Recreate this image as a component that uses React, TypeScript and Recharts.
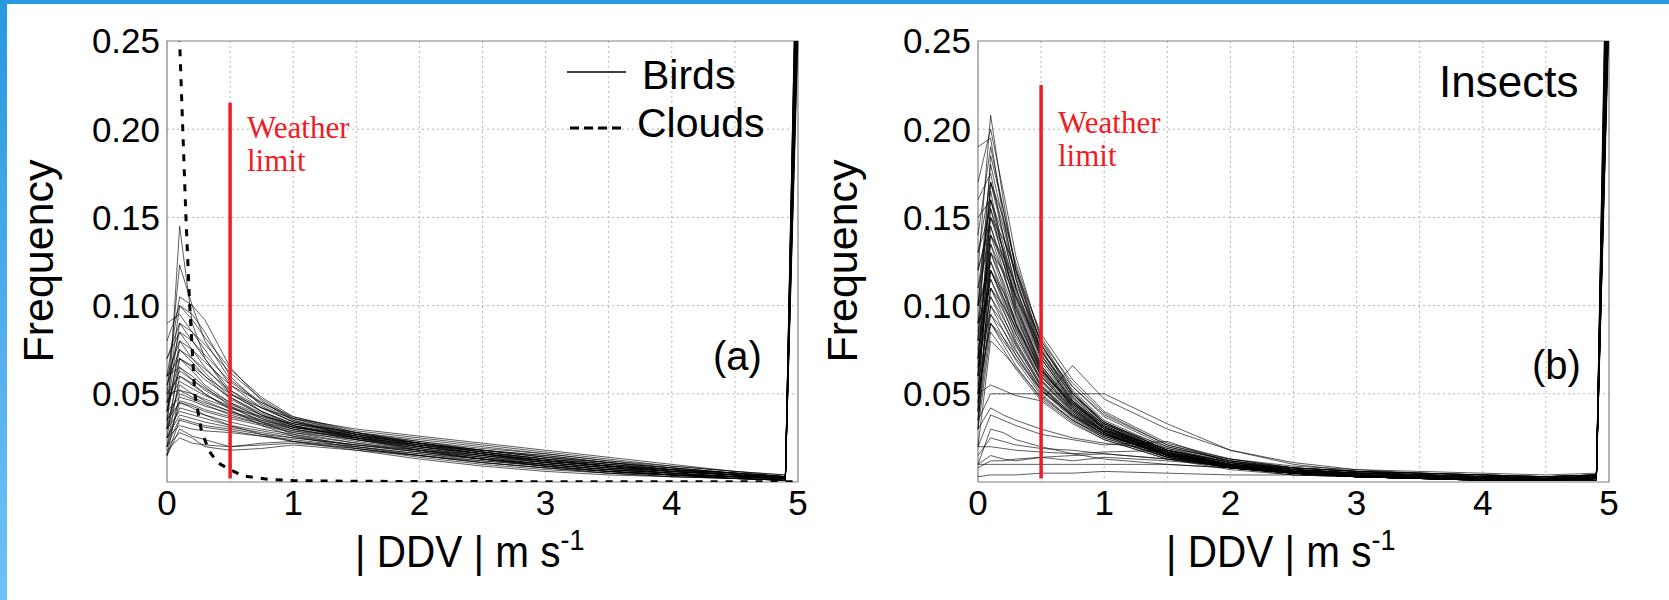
import React from 'react';
import {
    LineChart,
    Line,
    XAxis,
    YAxis,
    CartesianGrid,
    ReferenceLine,
    ReferenceArea,
} from 'recharts';

// |DDV| bins (m/s) shared by every bird / insect curve
const ddvBins = [0, 0.1, 0.2, 0.3, 0.5, 0.75, 1, 1.5, 2, 2.5, 3, 3.5, 4, 4.5, 4.9, 5];

// panel (a): bird profiles, one row per curve
const birdCurves: number[][] = [
    [0.03, 0.145, 0.09, 0.07, 0.05, 0.04, 0.033, 0.026, 0.02, 0.015, 0.011, 0.008, 0.006, 0.004, 0.003, 0.3],
    [0.05, 0.123, 0.1, 0.08, 0.058, 0.045, 0.036, 0.028, 0.022, 0.017, 0.012, 0.009, 0.006, 0.004, 0.003, 0.28],
    [0.06, 0.105, 0.1, 0.092, 0.065, 0.046, 0.035, 0.027, 0.021, 0.016, 0.012, 0.009, 0.006, 0.004, 0.002, 0.33],
    [0.045, 0.1, 0.095, 0.085, 0.06, 0.043, 0.034, 0.027, 0.022, 0.018, 0.014, 0.01, 0.007, 0.005, 0.003, 0.26],
    [0.09, 0.095, 0.085, 0.075, 0.055, 0.042, 0.034, 0.028, 0.023, 0.018, 0.014, 0.011, 0.008, 0.005, 0.003, 0.35],
    [0.04, 0.09, 0.08, 0.07, 0.052, 0.04, 0.032, 0.025, 0.02, 0.016, 0.012, 0.009, 0.007, 0.005, 0.002, 0.29],
    [0.07, 0.085, 0.075, 0.065, 0.05, 0.04, 0.033, 0.027, 0.022, 0.017, 0.013, 0.01, 0.007, 0.004, 0.002, 0.31],
    [0.035, 0.08, 0.07, 0.062, 0.048, 0.038, 0.031, 0.025, 0.02, 0.016, 0.012, 0.009, 0.006, 0.004, 0.002, 0.27],
    [0.055, 0.075, 0.068, 0.06, 0.047, 0.038, 0.032, 0.026, 0.022, 0.018, 0.015, 0.011, 0.008, 0.005, 0.003, 0.36],
    [0.025, 0.07, 0.063, 0.055, 0.045, 0.036, 0.03, 0.024, 0.019, 0.015, 0.011, 0.008, 0.006, 0.004, 0.002, 0.25],
    [0.06, 0.065, 0.058, 0.052, 0.044, 0.037, 0.031, 0.026, 0.021, 0.017, 0.013, 0.01, 0.007, 0.005, 0.003, 0.32],
    [0.02, 0.06, 0.055, 0.05, 0.042, 0.035, 0.03, 0.024, 0.019, 0.015, 0.011, 0.008, 0.005, 0.003, 0.002, 0.28],
    [0.045, 0.057, 0.053, 0.049, 0.043, 0.036, 0.031, 0.027, 0.023, 0.019, 0.016, 0.012, 0.009, 0.006, 0.004, 0.34],
    [0.03, 0.055, 0.05, 0.046, 0.04, 0.034, 0.029, 0.023, 0.018, 0.014, 0.01, 0.007, 0.005, 0.003, 0.002, 0.3],
    [0.05, 0.052, 0.048, 0.045, 0.04, 0.035, 0.031, 0.026, 0.022, 0.018, 0.014, 0.011, 0.008, 0.005, 0.003, 0.27],
    [0.015, 0.05, 0.047, 0.044, 0.038, 0.033, 0.028, 0.022, 0.017, 0.013, 0.009, 0.006, 0.004, 0.003, 0.002, 0.29],
    [0.04, 0.048, 0.046, 0.043, 0.039, 0.034, 0.03, 0.025, 0.021, 0.017, 0.013, 0.01, 0.007, 0.004, 0.002, 0.33],
    [0.035, 0.045, 0.043, 0.04, 0.036, 0.032, 0.028, 0.024, 0.02, 0.016, 0.012, 0.009, 0.006, 0.004, 0.002, 0.26],
    [0.025, 0.042, 0.04, 0.038, 0.034, 0.03, 0.027, 0.022, 0.018, 0.014, 0.011, 0.008, 0.005, 0.003, 0.002, 0.31],
    [0.03, 0.04, 0.038, 0.036, 0.032, 0.029, 0.026, 0.021, 0.017, 0.013, 0.01, 0.007, 0.005, 0.003, 0.001, 0.28],
    [0.02, 0.036, 0.034, 0.032, 0.03, 0.027, 0.025, 0.021, 0.017, 0.013, 0.01, 0.007, 0.005, 0.003, 0.002, 0.35],
    [0.025, 0.032, 0.03, 0.029, 0.028, 0.026, 0.024, 0.02, 0.016, 0.012, 0.009, 0.006, 0.004, 0.003, 0.002, 0.27],
    [0.015, 0.03, 0.026, 0.024, 0.02, 0.021, 0.022, 0.019, 0.015, 0.012, 0.009, 0.006, 0.004, 0.002, 0.001, 0.3],
    [0.02, 0.028, 0.025, 0.02, 0.018, 0.019, 0.021, 0.018, 0.015, 0.011, 0.008, 0.005, 0.004, 0.002, 0.001, 0.32],
    [0.018, 0.025, 0.022, 0.021, 0.02, 0.022, 0.023, 0.02, 0.016, 0.013, 0.01, 0.007, 0.005, 0.003, 0.002, 0.29],
    [0.04, 0.07, 0.066, 0.06, 0.05, 0.042, 0.036, 0.03, 0.026, 0.022, 0.018, 0.014, 0.01, 0.006, 0.003, 0.3],
    [0.06, 0.08, 0.075, 0.068, 0.055, 0.045, 0.037, 0.029, 0.025, 0.021, 0.017, 0.013, 0.009, 0.006, 0.004, 0.27],
    [0.03, 0.065, 0.06, 0.054, 0.043, 0.034, 0.027, 0.02, 0.015, 0.011, 0.008, 0.005, 0.003, 0.002, 0.001, 0.33],
    [0.05, 0.06, 0.056, 0.05, 0.041, 0.032, 0.026, 0.019, 0.014, 0.01, 0.007, 0.005, 0.003, 0.002, 0.001, 0.29],
    [0.02, 0.045, 0.042, 0.038, 0.032, 0.027, 0.023, 0.018, 0.013, 0.009, 0.006, 0.004, 0.003, 0.002, 0.001, 0.31],
    [0.07, 0.09, 0.085, 0.078, 0.062, 0.047, 0.036, 0.027, 0.021, 0.016, 0.011, 0.008, 0.005, 0.003, 0.002, 0.26],
    [0.08, 0.1, 0.092, 0.082, 0.064, 0.048, 0.037, 0.028, 0.022, 0.017, 0.013, 0.009, 0.006, 0.004, 0.002, 0.34],
    [0.035, 0.052, 0.05, 0.047, 0.042, 0.037, 0.033, 0.028, 0.024, 0.02, 0.016, 0.012, 0.008, 0.005, 0.003, 0.28],
    [0.045, 0.063, 0.058, 0.053, 0.045, 0.038, 0.032, 0.025, 0.019, 0.014, 0.01, 0.007, 0.004, 0.003, 0.002, 0.32],
    [0.025, 0.038, 0.036, 0.034, 0.031, 0.028, 0.025, 0.021, 0.018, 0.015, 0.012, 0.009, 0.006, 0.004, 0.002, 0.3],
    [0.055, 0.085, 0.08, 0.072, 0.057, 0.044, 0.035, 0.025, 0.018, 0.013, 0.009, 0.006, 0.004, 0.002, 0.001, 0.35],
    [0.015, 0.035, 0.033, 0.031, 0.029, 0.026, 0.023, 0.019, 0.015, 0.011, 0.008, 0.006, 0.004, 0.003, 0.002, 0.27],
    [0.04, 0.075, 0.07, 0.064, 0.052, 0.042, 0.034, 0.026, 0.02, 0.016, 0.012, 0.009, 0.007, 0.005, 0.003, 0.29],
    [0.06, 0.07, 0.065, 0.058, 0.048, 0.039, 0.032, 0.024, 0.018, 0.013, 0.009, 0.006, 0.004, 0.002, 0.001, 0.31],
    [0.03, 0.046, 0.044, 0.041, 0.037, 0.033, 0.029, 0.025, 0.021, 0.018, 0.015, 0.011, 0.007, 0.004, 0.002, 0.33],
];

// panel (a): cloud profile (dashed)
const cloudBins = [0, 0.1, 0.15, 0.18, 0.22, 0.27, 0.33, 0.4, 0.5, 0.6, 0.8, 1, 1.5, 2, 3, 4, 5];
const cloudValues = [0.9, 0.25, 0.15, 0.1, 0.05, 0.03, 0.018, 0.011, 0.007, 0.0035, 0.0015, 0.0008, 0.0004, 0.0003, 0.0002, 0.0002, 0.0002];

// panel (b): insect profiles
const insectCurves: number[][] = [
    [0.12, 0.208, 0.16, 0.12, 0.075, 0.048, 0.032, 0.016, 0.009, 0.005, 0.003, 0.002, 0.002, 0.001, 0.002, 0.32],
    [0.19, 0.195, 0.15, 0.115, 0.072, 0.046, 0.03, 0.015, 0.008, 0.005, 0.003, 0.002, 0.001, 0.001, 0.002, 0.4],
    [0.08, 0.185, 0.155, 0.12, 0.078, 0.05, 0.034, 0.018, 0.01, 0.006, 0.004, 0.003, 0.002, 0.002, 0.003, 0.3],
    [0.16, 0.175, 0.14, 0.11, 0.07, 0.045, 0.03, 0.016, 0.009, 0.005, 0.003, 0.002, 0.002, 0.001, 0.002, 0.35],
    [0.06, 0.17, 0.145, 0.115, 0.074, 0.048, 0.032, 0.017, 0.009, 0.005, 0.003, 0.002, 0.001, 0.001, 0.001, 0.28],
    [0.1, 0.165, 0.13, 0.1, 0.065, 0.042, 0.028, 0.014, 0.008, 0.004, 0.003, 0.002, 0.001, 0.001, 0.002, 0.33],
    [0.04, 0.16, 0.135, 0.108, 0.07, 0.046, 0.031, 0.016, 0.009, 0.005, 0.003, 0.002, 0.002, 0.001, 0.002, 0.38],
    [0.13, 0.155, 0.125, 0.098, 0.064, 0.042, 0.029, 0.015, 0.008, 0.005, 0.003, 0.002, 0.001, 0.001, 0.002, 0.3],
    [0.07, 0.15, 0.128, 0.104, 0.068, 0.045, 0.031, 0.017, 0.01, 0.006, 0.004, 0.003, 0.002, 0.002, 0.003, 0.27],
    [0.05, 0.145, 0.12, 0.095, 0.062, 0.041, 0.028, 0.015, 0.008, 0.005, 0.003, 0.002, 0.001, 0.001, 0.001, 0.36],
    [0.11, 0.14, 0.118, 0.096, 0.064, 0.043, 0.03, 0.016, 0.009, 0.006, 0.004, 0.003, 0.002, 0.001, 0.002, 0.31],
    [0.09, 0.135, 0.112, 0.09, 0.06, 0.04, 0.028, 0.015, 0.008, 0.005, 0.003, 0.002, 0.002, 0.001, 0.002, 0.29],
    [0.03, 0.13, 0.11, 0.09, 0.061, 0.042, 0.029, 0.016, 0.009, 0.005, 0.003, 0.002, 0.001, 0.001, 0.002, 0.34],
    [0.1, 0.125, 0.105, 0.086, 0.058, 0.04, 0.028, 0.015, 0.009, 0.005, 0.004, 0.003, 0.002, 0.001, 0.002, 0.3],
    [0.06, 0.12, 0.102, 0.084, 0.057, 0.039, 0.027, 0.015, 0.008, 0.005, 0.003, 0.002, 0.001, 0.001, 0.002, 0.37],
    [0.08, 0.115, 0.098, 0.08, 0.055, 0.038, 0.027, 0.015, 0.009, 0.006, 0.004, 0.003, 0.002, 0.002, 0.002, 0.28],
    [0.045, 0.11, 0.094, 0.078, 0.054, 0.037, 0.026, 0.014, 0.008, 0.005, 0.003, 0.002, 0.001, 0.001, 0.001, 0.33],
    [0.09, 0.105, 0.09, 0.075, 0.052, 0.036, 0.026, 0.014, 0.008, 0.005, 0.003, 0.002, 0.002, 0.001, 0.002, 0.31],
    [0.035, 0.1, 0.086, 0.072, 0.05, 0.035, 0.025, 0.014, 0.008, 0.005, 0.003, 0.002, 0.001, 0.001, 0.002, 0.26],
    [0.07, 0.095, 0.082, 0.069, 0.049, 0.035, 0.025, 0.014, 0.008, 0.005, 0.003, 0.002, 0.002, 0.001, 0.002, 0.35],
    [0.05, 0.09, 0.078, 0.066, 0.047, 0.034, 0.024, 0.013, 0.008, 0.005, 0.003, 0.002, 0.001, 0.001, 0.001, 0.29],
    [0.03, 0.085, 0.075, 0.064, 0.046, 0.033, 0.024, 0.013, 0.007, 0.004, 0.003, 0.002, 0.001, 0.001, 0.002, 0.32],
    [0.15, 0.16, 0.14, 0.118, 0.078, 0.052, 0.035, 0.019, 0.011, 0.007, 0.005, 0.004, 0.003, 0.002, 0.003, 0.3],
    [0.12, 0.15, 0.132, 0.11, 0.074, 0.05, 0.034, 0.018, 0.011, 0.007, 0.005, 0.004, 0.003, 0.002, 0.004, 0.34],
    [0.065, 0.14, 0.125, 0.106, 0.072, 0.049, 0.033, 0.018, 0.011, 0.007, 0.005, 0.004, 0.003, 0.002, 0.003, 0.27],
    [0.1, 0.18, 0.148, 0.116, 0.075, 0.05, 0.033, 0.017, 0.01, 0.006, 0.004, 0.003, 0.002, 0.002, 0.002, 0.39],
    [0.04, 0.12, 0.108, 0.092, 0.064, 0.044, 0.031, 0.017, 0.01, 0.006, 0.004, 0.003, 0.002, 0.001, 0.002, 0.3],
    [0.09, 0.17, 0.14, 0.11, 0.072, 0.047, 0.031, 0.016, 0.009, 0.005, 0.003, 0.002, 0.002, 0.001, 0.002, 0.31],
    [0.14, 0.19, 0.155, 0.122, 0.078, 0.05, 0.033, 0.017, 0.01, 0.006, 0.004, 0.003, 0.002, 0.002, 0.003, 0.36],
    [0.07, 0.155, 0.132, 0.105, 0.07, 0.046, 0.032, 0.017, 0.01, 0.006, 0.004, 0.003, 0.002, 0.001, 0.002, 0.29],
    [0.11, 0.16, 0.13, 0.102, 0.066, 0.043, 0.029, 0.015, 0.008, 0.005, 0.003, 0.002, 0.001, 0.001, 0.001, 0.33],
    [0.05, 0.135, 0.118, 0.098, 0.066, 0.045, 0.031, 0.017, 0.01, 0.006, 0.004, 0.003, 0.002, 0.002, 0.003, 0.27],
    [0.12, 0.145, 0.124, 0.1, 0.066, 0.044, 0.03, 0.016, 0.009, 0.005, 0.003, 0.002, 0.002, 0.001, 0.002, 0.38],
    [0.085, 0.13, 0.114, 0.094, 0.063, 0.043, 0.03, 0.016, 0.009, 0.006, 0.004, 0.003, 0.002, 0.002, 0.002, 0.3],
    [0.06, 0.125, 0.108, 0.089, 0.06, 0.041, 0.029, 0.016, 0.009, 0.005, 0.003, 0.002, 0.001, 0.001, 0.002, 0.34],
    [0.1, 0.12, 0.104, 0.087, 0.06, 0.041, 0.029, 0.016, 0.01, 0.006, 0.004, 0.003, 0.002, 0.002, 0.003, 0.28],
    [0.075, 0.115, 0.1, 0.084, 0.058, 0.04, 0.028, 0.015, 0.009, 0.005, 0.003, 0.002, 0.002, 0.001, 0.002, 0.32],
    [0.04, 0.11, 0.097, 0.082, 0.057, 0.039, 0.028, 0.015, 0.009, 0.005, 0.003, 0.002, 0.001, 0.001, 0.002, 0.35],
    [0.065, 0.105, 0.093, 0.079, 0.055, 0.038, 0.027, 0.015, 0.009, 0.006, 0.004, 0.003, 0.002, 0.002, 0.002, 0.29],
    [0.055, 0.1, 0.09, 0.077, 0.054, 0.038, 0.027, 0.015, 0.009, 0.005, 0.004, 0.003, 0.002, 0.001, 0.002, 0.31],
    [0.045, 0.095, 0.086, 0.074, 0.053, 0.037, 0.027, 0.015, 0.009, 0.006, 0.004, 0.003, 0.002, 0.002, 0.003, 0.27],
    [0.13, 0.17, 0.15, 0.124, 0.082, 0.054, 0.037, 0.02, 0.012, 0.007, 0.005, 0.004, 0.003, 0.002, 0.003, 0.33],
    [0.17, 0.2, 0.165, 0.128, 0.08, 0.051, 0.034, 0.018, 0.01, 0.006, 0.004, 0.003, 0.002, 0.002, 0.002, 0.36],
    [0.08, 0.14, 0.128, 0.112, 0.08, 0.056, 0.039, 0.021, 0.012, 0.007, 0.005, 0.004, 0.003, 0.002, 0.003, 0.3],
    [0.06, 0.13, 0.12, 0.105, 0.076, 0.054, 0.038, 0.021, 0.013, 0.008, 0.006, 0.005, 0.004, 0.003, 0.004, 0.28],
    [0.1, 0.15, 0.138, 0.12, 0.084, 0.058, 0.04, 0.022, 0.013, 0.008, 0.006, 0.004, 0.003, 0.002, 0.003, 0.34],
    [0.035, 0.09, 0.082, 0.072, 0.052, 0.037, 0.027, 0.016, 0.01, 0.007, 0.005, 0.004, 0.003, 0.002, 0.003, 0.3],
    [0.02, 0.08, 0.073, 0.065, 0.048, 0.035, 0.026, 0.016, 0.01, 0.007, 0.005, 0.004, 0.003, 0.002, 0.003, 0.32],
    [0.09, 0.11, 0.1, 0.088, 0.062, 0.044, 0.031, 0.018, 0.011, 0.007, 0.005, 0.004, 0.003, 0.002, 0.003, 0.29],
    [0.05, 0.09, 0.08, 0.07, 0.052, 0.038, 0.029, 0.019, 0.013, 0.009, 0.007, 0.006, 0.005, 0.004, 0.005, 0.3],
    [0.07, 0.12, 0.105, 0.09, 0.063, 0.045, 0.033, 0.02, 0.012, 0.008, 0.006, 0.005, 0.004, 0.003, 0.004, 0.33],
    [0.05, 0.055, 0.052, 0.049, 0.046, 0.066, 0.047, 0.03, 0.018, 0.01, 0.006, 0.004, 0.003, 0.002, 0.003, 0.3],
    [0.035, 0.05, 0.05, 0.05, 0.05, 0.05, 0.05, 0.033, 0.018, 0.011, 0.007, 0.005, 0.004, 0.003, 0.004, 0.28],
    [0.03, 0.042, 0.038, 0.035, 0.03, 0.025, 0.022, 0.018, 0.012, 0.008, 0.006, 0.005, 0.004, 0.003, 0.004, 0.33],
    [0.02, 0.038, 0.035, 0.032, 0.027, 0.024, 0.021, 0.023, 0.011, 0.007, 0.005, 0.004, 0.003, 0.002, 0.003, 0.31],
    [0.01, 0.03, 0.028, 0.024, 0.02, 0.016, 0.013, 0.01, 0.008, 0.006, 0.005, 0.004, 0.003, 0.003, 0.004, 0.29],
    [0.015, 0.025, 0.023, 0.021, 0.019, 0.018, 0.016, 0.013, 0.01, 0.008, 0.006, 0.005, 0.004, 0.003, 0.004, 0.35],
    [0.01, 0.015, 0.013, 0.012, 0.014, 0.012, 0.014, 0.012, 0.009, 0.007, 0.005, 0.004, 0.003, 0.002, 0.003, 0.3],
    [0.008, 0.012, 0.012, 0.013, 0.014, 0.015, 0.016, 0.013, 0.009, 0.006, 0.005, 0.004, 0.003, 0.002, 0.003, 0.27],
    [0.01, 0.01, 0.01, 0.01, 0.01, 0.01, 0.01, 0.01, 0.008, 0.006, 0.005, 0.004, 0.003, 0.003, 0.004, 0.32],
    [0.003, 0.004, 0.004, 0.004, 0.005, 0.005, 0.006, 0.005, 0.004, 0.004, 0.003, 0.003, 0.002, 0.002, 0.003, 0.34],
    [0.02, 0.02, 0.019, 0.018, 0.017, 0.016, 0.017, 0.018, 0.011, 0.008, 0.006, 0.005, 0.004, 0.003, 0.004, 0.3],
];

const xTicks = [0, 1, 2, 3, 4, 5];
const yTicks = [0.05, 0.1, 0.15, 0.2, 0.25];
const gridX = [0.5, 1, 1.5, 2, 2.5, 3, 3.5, 4, 4.5];
const gridY = [0.05, 0.1, 0.15, 0.2];

const weatherLimit = 0.5;
const weatherTopBirds = 0.215;
const weatherTopInsects = 0.225;

const toPoints = (bins: number[], vals: number[]) => vals.map((y, i) => ({ x: bins[i], y }));

const RED = '#ee1c25';
const SANS = '"Liberation Sans", Arial, sans-serif';
const SERIF = '"Liberation Serif", "Times New Roman", serif';

function Panel({ curves, limitTop, withClouds }: { curves: number[][]; limitTop: number; withClouds?: boolean }) {
    return (
        <LineChart width={810} height={600} margin={{ top: 41, right: 12, bottom: 0, left: 0 }}>
            <CartesianGrid
                horizontalValues={gridY}
                verticalValues={gridX}
                stroke="#b4b4b4"
                strokeDasharray="2 3"
            />
            <XAxis
                dataKey="x"
                type="number"
                domain={[0, 5]}
                ticks={xTicks}
                height={118}
                axisLine={false}
                tickLine={false}
                tickSize={0}
                tickMargin={8}
                tick={{ fill: '#000', fontSize: 35, fontFamily: SANS }}
                allowDuplicatedCategory={false}
            />
            <YAxis
                type="number"
                domain={[0, 0.25]}
                ticks={yTicks}
                width={167}
                allowDataOverflow
                axisLine={false}
                tickLine={false}
                tickSize={0}
                tickMargin={7}
                tickFormatter={(v: number) => v.toFixed(2)}
                tick={{ fill: '#000', fontSize: 35, fontFamily: SANS }}
            />
            {curves.map((c, i) => (
                <Line
                    key={`c-${i}`}
                    data={toPoints(ddvBins, c)}
                    dataKey="y"
                    type="linear"
                    stroke="#000"
                    strokeWidth={0.8}
                    strokeOpacity={0.8}
                    dot={false}
                    isAnimationActive={false}
                />
            ))}
            {withClouds && (
                <Line
                    data={toPoints(cloudBins, cloudValues)}
                    dataKey="y"
                    type="linear"
                    stroke="#000"
                    strokeWidth={3}
                    strokeDasharray="7 8"
                    dot={false}
                    isAnimationActive={false}
                />
            )}
            <ReferenceLine
                segment={[{ x: weatherLimit, y: 0.002 }, { x: weatherLimit, y: limitTop }]}
                stroke={RED}
                strokeWidth={3.5}
            />
            <ReferenceArea x1={0} x2={5} y1={0} y2={0.25} fill="none" stroke="#808080" strokeWidth={1.2} />
        </LineChart>
    );
}

function Overlay() {
    // axis title is slightly condensed in the original
    const xTitle = (x: number) => (
        <g transform={`translate(${x} 567) scale(0.9 1)`}>
            <text x={0} y={0} fontFamily={SANS} fontSize={45} fill="#000">
                | DDV | m s
                <tspan fontSize={30} dy={-17}>-1</tspan>
            </text>
        </g>
    );
    return (
        <svg width={1669} height={600} style={{ position: 'absolute', left: 0, top: 0, pointerEvents: 'none' }}>
            <text x={53} y={261} transform="rotate(-90 53 261)" textAnchor="middle" fontFamily={SANS} fontSize={43}>
                Frequency
            </text>
            <text x={857} y={261} transform="rotate(-90 857 261)" textAnchor="middle" fontFamily={SANS} fontSize={43}>
                Frequency
            </text>
            {xTitle(355)}
            {xTitle(1166)}

            {/* legend (a) */}
            <line x1={567} x2={626} y1={72} y2={72} stroke="#000" strokeWidth={1.5} />
            <text x={642} y={89} fontFamily={SANS} fontSize={41}>Birds</text>
            <line x1={570} x2={621} y1={128} y2={128} stroke="#000" strokeWidth={3} strokeDasharray="9 5" />
            <text x={637} y={137} fontFamily={SANS} fontSize={41}>Clouds</text>

            <text x={713} y={370} fontFamily={SANS} fontSize={40}>(a)</text>
            <text x={1532} y={379} fontFamily={SANS} fontSize={40}>(b)</text>
            <text x={1439} y={97} fontFamily={SANS} fontSize={44}>Insects</text>

            {/* weather limit captions */}
            <text fontFamily={SERIF} fontSize={31} fill={RED}>
                <tspan x={247} y={138}>Weather</tspan>
                <tspan x={247} y={171}>limit</tspan>
            </text>
            <text fontFamily={SERIF} fontSize={31} fill={RED}>
                <tspan x={1058} y={133}>Weather</tspan>
                <tspan x={1058} y={166}>limit</tspan>
            </text>
        </svg>
    );
}

export default function App() {
    return (
        <div style={{ position: 'absolute', left: 0, top: 0, width: 1669, height: 600, background: '#fff', overflow: 'hidden' }}>
            <div style={{ position: 'absolute', left: 0, top: 0, width: 1669, height: 4, background: '#2898e0' }} />
            <div
                style={{
                    position: 'absolute',
                    left: 0,
                    top: 0,
                    width: 7,
                    height: 600,
                    background: 'linear-gradient(#2898e0, #6fc2f6)',
                }}
            />
            <div style={{ position: 'absolute', left: 0, top: 0 }}>
                <Panel curves={birdCurves} limitTop={weatherTopBirds} withClouds />
            </div>
            <div style={{ position: 'absolute', left: 811, top: 0 }}>
                <Panel curves={insectCurves} limitTop={weatherTopInsects} />
            </div>
            <Overlay />
        </div>
    );
}
